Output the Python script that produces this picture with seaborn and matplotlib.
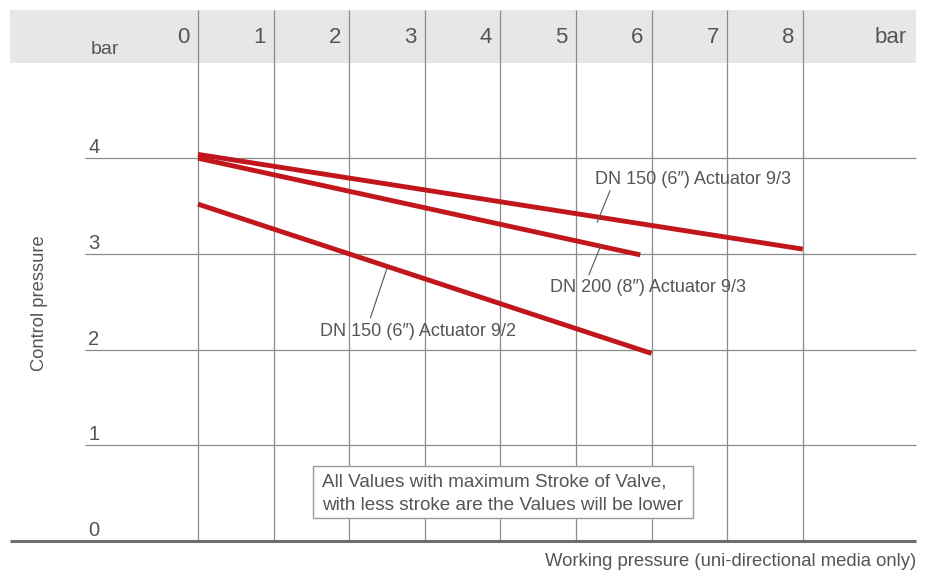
import pandas as pd
import matplotlib.pyplot as plt
from matplotlib.patches import Rectangle
import seaborn as sns

# grid values (bar)
x_ticks = [0, 1, 2, 3, 4, 5, 6, 7, 8]
y_ticks = [0, 1, 2, 3, 4]

# curves: working pressure -> control pressure
dn150_93_x = [0, 8]
dn150_93_y = [4.04, 3.05]
dn200_93_x = [0, 5.85]
dn200_93_y = [4.00, 2.99]
dn150_92_x = [0, 6]
dn150_92_y = [3.52, 1.96]

series_names = ["DN 150 (6″) Actuator 9/3",
                "DN 200 (8″) Actuator 9/3",
                "DN 150 (6″) Actuator 9/2"]

note_lines = ["All Values with maximum Stroke of Valve,",
              "with less stroke are the Values will be lower"]

RED = "#c1161c"
TXT = "#555555"
GRID = "#8c8c8c"

df = pd.concat([
    pd.DataFrame({"wp": dn150_93_x, "cp": dn150_93_y, "series": series_names[0]}),
    pd.DataFrame({"wp": dn200_93_x, "cp": dn200_93_y, "series": series_names[1]}),
    pd.DataFrame({"wp": dn150_92_x, "cp": dn150_92_y, "series": series_names[2]}),
])

sns.set_theme(style="white")
plt.rcParams["font.family"] = ["Liberation Sans", "DejaVu Sans"]

fig = plt.figure(figsize=(9.26, 5.71), dpi=100)
ax = fig.add_axes([0, 0, 1, 1])
ax.set_xlim(-2.619, 9.630)
ax.set_ylim(-0.313, 5.653)
ax.set_axis_off()

# grey header band with the working pressure scale
ax.add_patch(Rectangle((-2.49, 4.99), 11.99, 0.555, color="#e6e7e8", zorder=0, lw=0))
ax.vlines(x_ticks, 0, 5.545, color=GRID, lw=0.9, zorder=1)
ax.hlines(y_ticks[1:], -1.495, 9.497, color=GRID, lw=0.9, zorder=1)
ax.hlines(0, -2.49, 9.497, color="#6e6e6e", lw=2.2, zorder=2)

for x in x_ticks:
    ax.text(x - 0.11, 5.26, str(x), ha="right", va="center", fontsize=16, color=TXT)
ax.text(9.37, 5.26, "bar", ha="right", va="center", fontsize=16, color=TXT)
ax.text(-1.42, 5.14, "bar", ha="left", va="center", fontsize=14, color=TXT)

for y in y_ticks:
    ax.text(-1.45, y + 0.11, str(y), ha="left", va="center", fontsize=14.5, color=TXT)

ax.text(-2.09, 2.49, "Control pressure", rotation=90, ha="center", va="center",
        fontsize=13.2, color=TXT)
ax.text(9.497, -0.21, "Working pressure (uni-directional media only)", ha="right",
        va="center", fontsize=13.3, color=TXT)

# curves
sns.lineplot(data=df, x="wp", y="cp", hue="series", palette=[RED] * 3,
             linewidth=3.5, legend=False, ax=ax, zorder=4, solid_capstyle="butt",
             estimator=None, sort=False)

# labels with leader lines
ax.text(5.25, 3.78, series_names[0], ha="left", va="center", fontsize=13, color=TXT)
ax.plot([5.45, 5.28], [3.66, 3.33], color="#555555", lw=0.8, zorder=5)
ax.text(4.66, 2.65, series_names[1], ha="left", va="center", fontsize=13, color=TXT)
ax.plot([5.17, 5.33], [2.78, 3.09], color="#555555", lw=0.8, zorder=5)
ax.text(1.62, 2.19, series_names[2], ha="left", va="center", fontsize=13, color=TXT)
ax.plot([2.28, 2.50], [2.33, 2.85], color="#555555", lw=0.8, zorder=5)

# note box
ax.add_patch(Rectangle((1.52, 0.24), 5.03, 0.54, facecolor="white",
                       edgecolor="#9a9a9a", lw=1, zorder=3))
ax.text(1.64, 0.622, note_lines[0], ha="left", va="center", fontsize=13.6, color=TXT, zorder=4)
ax.text(1.64, 0.372, note_lines[1], ha="left", va="center", fontsize=13.6, color=TXT, zorder=4)

fig.savefig("out.png", dpi=100)
